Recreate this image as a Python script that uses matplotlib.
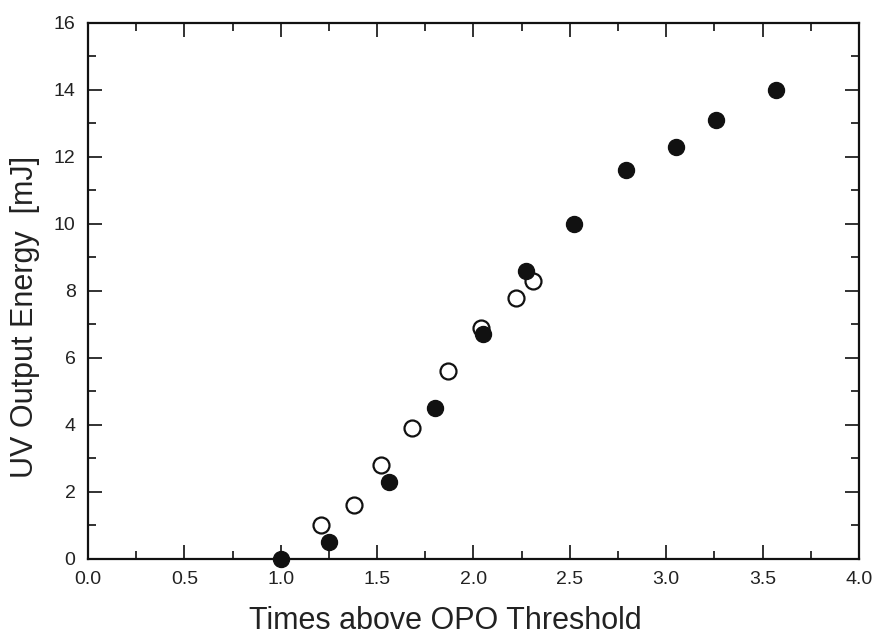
import matplotlib
matplotlib.use("Agg")
import matplotlib.pyplot as plt
from matplotlib.ticker import MultipleLocator

plt.rcParams['font.family'] = ['Liberation Sans', 'DejaVu Sans']

# filled circles
x_filled = [1.00, 1.25, 1.56, 1.80, 2.05, 2.27, 2.52, 2.79, 3.05, 3.26, 3.57]
y_filled = [0.0, 0.5, 2.3, 4.5, 6.7, 8.6, 10.0, 11.6, 12.3, 13.1, 14.0]

# open circles
x_open = [1.21, 1.38, 1.52, 1.68, 1.87, 2.04, 2.22, 2.31]
y_open = [1.0, 1.6, 2.8, 3.9, 5.6, 6.9, 7.8, 8.3]

fig = plt.figure(figsize=(8.76, 6.38), dpi=100)
ax = fig.add_axes([0.1005, 0.124, 0.880, 0.840])

ax.plot(x_open, y_open, 'o', ms=11.5, mfc='white', mec='#111111', mew=1.6,
        clip_on=False, zorder=3)
ax.plot(x_filled, y_filled, 'o', ms=11.5, mfc='#111111', mec='#111111',
        clip_on=False, zorder=4)

ax.set_xlim(0, 4)
ax.set_ylim(0, 16)
ax.xaxis.set_major_locator(MultipleLocator(0.5))
ax.xaxis.set_minor_locator(MultipleLocator(0.25))
ax.yaxis.set_major_locator(MultipleLocator(2))
ax.yaxis.set_minor_locator(MultipleLocator(1))
ax.xaxis.set_major_formatter(matplotlib.ticker.FormatStrFormatter('%.1f'))

ax.tick_params(which='both', direction='in', top=True, right=True,
               labelsize=14, colors='#222222', width=1.3)
ax.tick_params(which='major', length=10, pad=9)
ax.tick_params(which='minor', length=6)
for s in ax.spines.values():
    s.set_linewidth(1.6)
    s.set_color('#111111')

ax.set_xlabel('Times above OPO Threshold', fontsize=22, color='#222222', labelpad=13)
ax.set_ylabel('UV Output Energy  [mJ]', fontsize=22, color='#222222', labelpad=10)
ax.xaxis.label.set_x(0.464)
ax.yaxis.label.set_y(0.452)

fig.savefig('out.png', dpi=100)
